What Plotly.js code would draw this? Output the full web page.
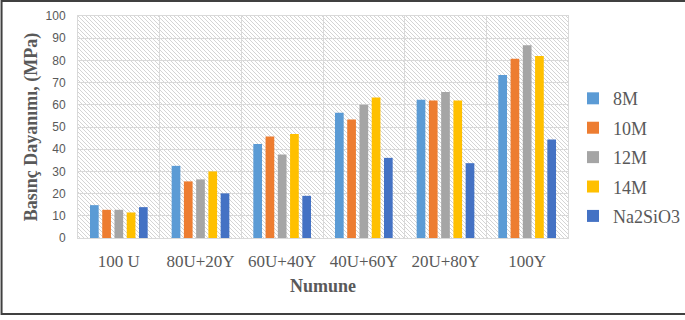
<!DOCTYPE html>
<html>
<head>
<meta charset="utf-8">
<script src="https://cdn.plot.ly/plotly-3.0.1.min.js"></script>
<style>
  html, body { margin: 0; padding: 0; background: #ffffff; }
  #chart { width: 685px; height: 320px; }
</style>
</head>
<body>
<div id="chart"></div>
<script>
// Basınç dayanımı (MPa) per mix, for each activator
const categories = ["100 U", "80U+20Y", "60U+40Y", "40U+60Y", "20U+80Y", "100Y"];
const seriesNames = ["8M", "10M", "12M", "14M", "Na2SiO3"];
const v8M      = [14.8, 32.5, 42.3, 56.4, 62.3, 73.4];
const v10M     = [12.7, 25.5, 45.7, 53.4, 61.9, 80.7];
const v12M     = [12.7, 26.4, 37.6, 60.0, 65.8, 86.8];
const v14M     = [11.5, 30.0, 46.9, 63.3, 61.9, 82.0];
const vNa2SiO3 = [13.9, 20.1, 19.0, 36.1, 33.7, 44.4];
const yTicks   = [0, 10, 20, 30, 40, 50, 60, 70, 80, 90, 100];

const seriesValues = [v8M, v10M, v12M, v14M, vNa2SiO3];
const colors = ["#5B9BD5", "#ED7D31", "#A5A5A5", "#FFC000", "#4472C4"];

const traces = seriesNames.map((name, i) => ({
  type: "bar",
  name: name,
  x: categories,
  y: seriesValues[i],
  legendgroup: name,
  marker: { color: colors[i] },
  hoverinfo: "x+y+name"
}));

// diagonal hatch fill for the plot background
const hatchSvg =
  "<svg xmlns='http://www.w3.org/2000/svg' width='490' height='222'>" +
  "<defs><pattern id='h' width='4' height='4' patternUnits='userSpaceOnUse'>" +
  "<path d='M0,0 L4,4 M-1,3 L1,5 M3,-1 L5,1' stroke='#d4d4d4' stroke-width='1'/>" +
  "</pattern></defs>" +
  "<rect width='100%' height='100%' fill='#ffffff'/>" +
  "<rect width='100%' height='100%' fill='url(#h)'/></svg>";
const hatchUri = "data:image/svg+xml;charset=utf-8," + encodeURIComponent(hatchSvg);

const gray = "#595959";
const serif = "'Liberation Serif', 'Times New Roman', serif";
const layout = {
  width: 685,
  height: 320,
  margin: { l: 78, r: 117, t: 16, b: 82 },
  font: { family: serif, size: 17, color: gray },
  paper_bgcolor: "#ffffff",
  plot_bgcolor: "rgba(0,0,0,0)",
  barmode: "group",
  bargap: 0.25,
  bargroupgap: 0.29,
  showlegend: true,
  legend: {
    xref: "container", yref: "container",
    x: 0.8365, xanchor: "left",
    y: 0.509, yanchor: "middle",
    font: { family: serif, size: 18, color: gray },
    tracegroupgap: 3,
    itemwidth: 30,
    bgcolor: "rgba(0,0,0,0)"
  },
  xaxis: {
    type: "category",
    tickson: "boundaries",
    showgrid: true,
    gridcolor: "#d9d9d9",
    gridwidth: 1,
    showline: true,
    linecolor: "#d9d9d9",
    mirror: true,
    ticks: "",
    ticklabelstandoff: 8,
    tickfont: { family: serif, size: 17, color: gray },
    title: {
      text: "<b>Numune</b>",
      font: { family: serif, size: 18, color: gray },
      standoff: 8
    },
    fixedrange: true
  },
  yaxis: {
    range: [0, 100],
    tickmode: "array",
    tickvals: yTicks,
    ticktext: yTicks.map(String),
    showgrid: true,
    gridcolor: "#d9d9d9",
    gridwidth: 1,
    zeroline: false,
    showline: true,
    linecolor: "#d9d9d9",
    mirror: true,
    ticks: "",
    ticklabelstandoff: 9,
    tickfont: { family: "'Liberation Sans', Arial, sans-serif", size: 12, color: gray },
    title: {
      text: "<b>Basınç Dayanımı, (MPa)</b>",
      font: { family: serif, size: 18, color: gray },
      standoff: 3
    },
    fixedrange: true
  },
  images: [{
    source: hatchUri,
    xref: "x domain", yref: "y domain",
    x: 0, y: 1, sizex: 1, sizey: 1,
    xanchor: "left", yanchor: "top",
    sizing: "stretch",
    layer: "below"
  }],
  shapes: [{
    type: "rect",
    xref: "paper", yref: "paper",
    x0: -0.156, x1: 1.35, y0: -0.342, y1: 1.068,
    line: { color: "#404040", width: 2 },
    fillcolor: "rgba(0,0,0,0)",
    layer: "above"
  }]
};

Plotly.newPlot("chart", traces, layout, { displayModeBar: false, staticPlot: true });
</script>
</body>
</html>
